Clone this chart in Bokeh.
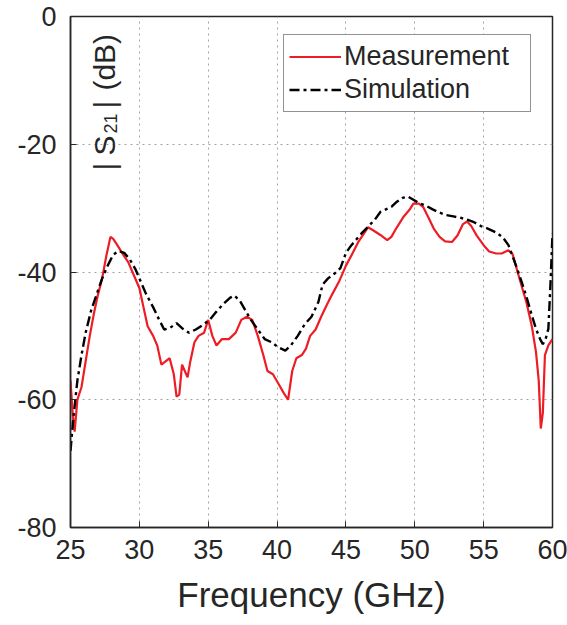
from math import pi
from bokeh.plotting import figure
from bokeh.models import Label, Legend, LegendItem, FixedTicker, Range1d
from bokeh.embed import file_html
from bokeh.resources import INLINE

# ---------------- data ----------------
meas_freq = [25.0, 25.15, 25.3, 25.5, 25.8, 26.1, 26.4, 26.7, 27.0, 27.3, 27.6, 27.9,
             28.1, 28.4, 28.8, 29.2, 29.6, 30.0, 30.3, 30.6, 31.0, 31.3, 31.6, 31.9,
             32.2, 32.5, 32.7, 32.9, 33.1, 33.3, 33.5, 33.7, 34.0, 34.3, 34.7, 35.0,
             35.3, 35.6, 36.0, 36.5, 37.0, 37.4, 37.8, 38.2, 38.6, 39.0, 39.3, 39.7,
             40.1, 40.5, 40.8, 41.1, 41.4, 41.8, 42.1, 42.4, 42.8, 43.2, 43.6, 44.0,
             44.5, 45.0, 45.5, 45.9, 46.3, 46.6, 47.0, 47.5, 48.0, 48.3, 48.7, 49.2,
             49.6, 49.9, 50.3, 50.6, 51.0, 51.4, 51.8, 52.2, 52.7, 53.1, 53.5, 53.8,
             54.1, 54.5, 55.0, 55.4, 55.9, 56.3, 56.8, 57.1, 57.4, 57.8, 58.1, 58.5,
             58.8, 59.0, 59.15, 59.3, 59.45, 59.7, 60.0]
meas_db = [-57, -62, -65, -60, -58, -54, -50, -46.5, -43.5, -41, -37.5, -34.5,
           -34.8, -35.8, -37.2, -38.5, -40.5, -42.5, -45.5, -48.5, -50, -51.5, -54.5, -54,
           -53.5, -56, -59.5, -59.2, -54.5, -55.5, -56.5, -54, -51, -50, -49.5, -47.5,
           -50, -51.5, -50.5, -50.5, -49.5, -47.5, -47, -47.5, -50, -53, -55.5, -56,
           -57.5, -59, -60, -55.5, -53.5, -53, -52, -50, -49, -47, -45.2, -43.5,
           -41.5, -39, -37, -35.3, -34, -33, -33.5, -34.2, -35, -34.5, -33, -31.3,
           -30.3, -29.3, -29.3, -29.8, -31.5, -33.3, -34.5, -35.2, -35.3, -34.3, -32.5, -32.1,
           -32.8, -34.3, -35.8, -36.8, -37.1, -37.1, -36.6, -37.2, -39.5, -42.5, -44.7, -48.5,
           -52.5, -57, -64.5, -62, -53, -51.5, -50.5]

sim_freq = [25.0, 25.2, 25.5, 25.8, 26.1, 26.5, 26.9, 27.3, 27.7, 28.1, 28.5, 28.9,
            29.3, 29.7, 30.1, 30.5, 31.0, 31.4, 31.8, 32.2, 32.7, 33.1, 33.6, 34.1,
            34.6, 35.1, 35.6, 36.1, 36.6, 36.9, 37.3, 37.7, 38.1, 38.6, 39.1, 39.6,
            40.1, 40.6, 41.0, 41.5, 42.0, 42.5, 43.0, 43.3, 43.7, 44.2, 44.6, 45.0,
            45.4, 45.8, 46.2, 46.7, 47.1, 47.5, 47.9, 48.3, 48.7, 49.1, 49.5, 49.9,
            50.3, 50.8, 51.3, 51.8, 52.3, 52.8, 53.3, 53.8, 54.3, 54.8, 55.3, 55.9,
            56.4, 56.8, 57.1, 57.4, 57.8, 58.1, 58.5, 58.8, 59.1, 59.3, 59.5, 59.7,
            59.85, 60.0]
sim_db = [-68, -63, -57, -53, -49.5, -46, -43.5, -41, -39, -37.3, -36.7, -37,
          -38, -39.5, -41.5, -43.5, -45.5, -47.3, -49, -48.8, -48, -48.8, -49.5, -49,
          -48.3, -47.5, -46.2, -45, -44, -43.7, -44.5, -46, -47.5, -49, -50.5, -51,
          -51.8, -52.3, -51.5, -50, -48.2, -47, -44.7, -42, -41, -40.2, -39.4, -37,
          -35.8, -34.8, -33.8, -32.7, -31.8, -30.6, -30.2, -29.8, -29, -28.4, -28.2, -28.7,
          -29.2, -29.6, -30.2, -30.7, -31.1, -31.3, -31.5, -31.8, -32.2, -32.8, -33.2, -33.8,
          -34.6, -35.8, -37.5, -39.3, -41.8, -43.8, -46.8, -48.9, -50.5, -51.3, -50.5, -48.9,
          -42, -34]

x_ticks = [25, 30, 35, 40, 45, 50, 55, 60]
y_ticks = [-80, -60, -40, -20, 0]
y_tick_labels = ["-80", "-60", "-40", "-20", "0"]
series_names = ["Measurement", "Simulation"]
x_title = "Frequency (GHz)"

FONT = "Liberation Sans"
AX = "#262626"

p = figure(width=567, height=623, output_backend="svg", toolbar_location=None,
           x_range=Range1d(25, 60), y_range=Range1d(-80, 0),
           min_border_left=70, min_border_right=15, min_border_top=16, min_border_bottom=96)
p.frame_width = 482
p.frame_height = 511
p.background_fill_color = "white"
p.border_fill_color = "white"
p.outline_line_color = AX
p.outline_line_width = 1.5
p.outline_line_alpha = 1.0

# grid
for g in (p.xgrid, p.ygrid):
    g.grid_line_color = "#8c8c8c"
    g.grid_line_dash = "2 4"
    g.grid_line_width = 1
    g.grid_line_alpha = 0.8
p.xgrid.ticker = FixedTicker(ticks=x_ticks)
p.ygrid.ticker = FixedTicker(ticks=y_ticks)

# axes
p.xaxis.ticker = FixedTicker(ticks=x_ticks)
p.yaxis.ticker = FixedTicker(ticks=y_ticks)
p.yaxis.major_label_overrides = {t: l for t, l in zip(y_ticks, y_tick_labels)}
p.xaxis.major_label_overrides = {t: str(t) for t in x_ticks}
for ax in (p.xaxis, p.yaxis):
    ax.axis_line_color = AX
    ax.axis_line_width = 1.5
    ax.major_tick_line_color = AX
    ax.major_tick_in = 6
    ax.major_tick_out = 0
    ax.minor_tick_line_color = None
    ax.major_label_text_font = FONT
    ax.major_label_text_font_size = "27px"
    ax.major_label_text_color = AX
p.yaxis.major_label_standoff = 14
p.xaxis.major_label_standoff = 12
p.xaxis.axis_label = x_title
p.xaxis.axis_label_text_font = FONT
p.xaxis.axis_label_text_font_size = "35px"
p.xaxis.axis_label_text_font_style = "normal"
p.xaxis.axis_label_text_color = AX
p.xaxis.axis_label_standoff = 13

# lines
r_meas = p.line(meas_freq, meas_db, line_color="#EE1C24", line_width=2.2)
r_sim = p.line(sim_freq, sim_db, line_color="black", line_width=2.4, line_dash="10 4 3 4")

legend = Legend(items=[LegendItem(label=series_names[0], renderers=[r_meas]),
                       LegendItem(label=series_names[1], renderers=[r_sim])],
                location=(213, 415))
legend.label_text_font = FONT
legend.label_text_font_size = "27px"
legend.label_text_color = AX
legend.glyph_width = 52
legend.glyph_height = 33
legend.label_height = 33
legend.label_width = 181
legend.label_standoff = 3
legend.padding = 5
legend.spacing = 0
legend.margin = 0
legend.border_line_color = AX
legend.border_line_width = 1.5
legend.background_fill_color = "white"
legend.background_fill_alpha = 1.0
p.add_layout(legend)

# y label inside frame: |S21| (dB)
pieces = [("|", 27.45, -24.1, "30px"),
          ("S", 27.45, -21.76, "30px"),
          ("21", 27.92, -18.3, "18px"),
          ("|", 27.45, -14.4, "30px"),
          ("(dB)", 27.45, -11.6, "30px")]
for txt, xx, yy, fs in pieces:
    p.add_layout(Label(x=xx, y=yy, text=txt, angle=pi / 2, text_font=FONT,
                       text_font_size=fs, text_color=AX, text_align="left",
                       text_baseline="alphabetic"))

open("out.html", "w").write(file_html(p, INLINE))
